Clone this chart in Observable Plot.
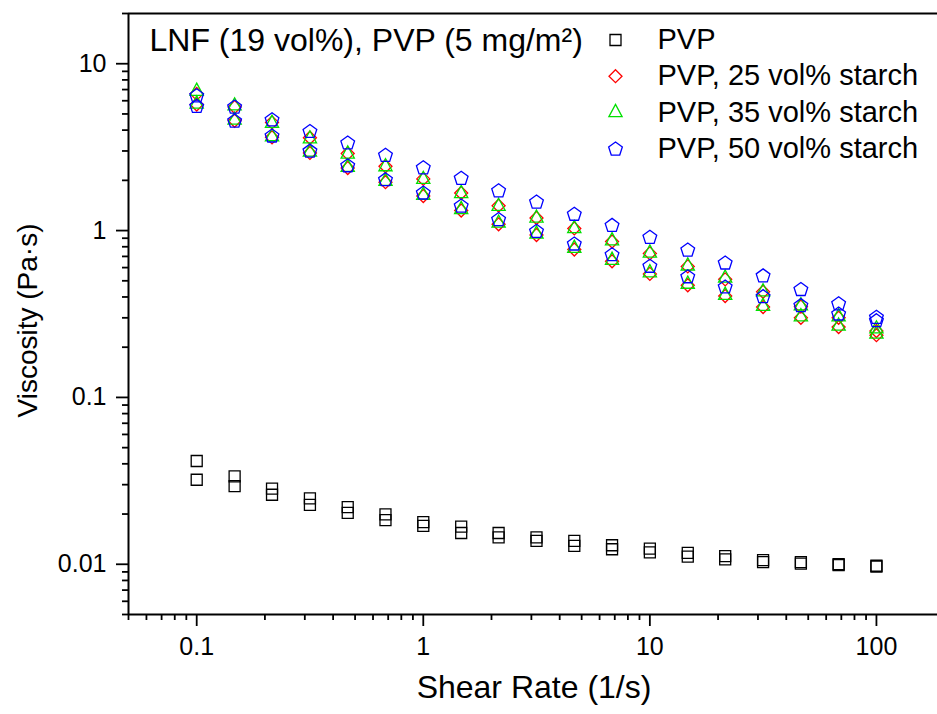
<!DOCTYPE html>
<html>
<head>
<meta charset="utf-8">
<script src="https://cdn.jsdelivr.net/npm/d3@7"></script>
<script src="https://cdn.jsdelivr.net/npm/@observablehq/plot@0.6"></script>
<style>
  html, body { margin: 0; padding: 0; background: #fff; }
  #chart { width: 937px; height: 714px; }
</style>
</head>
<body>
<div id="chart"></div>
<script>
// ---------- data ----------
const shearRate = [0.1, 0.147, 0.215, 0.316, 0.464, 0.681, 1, 1.47, 2.15, 3.16, 4.64, 6.81, 10, 14.7, 21.5, 31.6, 46.4, 68.1, 100];

const pvpUp   = [0.0416, 0.0336, 0.0284, 0.0248, 0.0220, 0.0199, 0.0179, 0.0168, 0.0154, 0.0145, 0.0138, 0.0130, 0.0124, 0.0117, 0.0112, 0.0106, 0.0103, 0.0100, 0.0098];
const pvpDown = [0.0321, 0.0294, 0.0261, 0.0227, 0.0203, 0.0184, 0.0170, 0.0154, 0.0145, 0.0138, 0.0129, 0.0123, 0.0118, 0.0111, 0.0107, 0.0103, 0.0101, 0.0099, 0.0097];

const s25Up   = [6.6, 5.5, 4.45, 3.6, 2.9, 2.43, 2.04, 1.68, 1.41, 1.19, 1.03, 0.86, 0.73, 0.61, 0.51, 0.43, 0.35, 0.30, 0.25];
const s25Down = [5.7, 4.55, 3.62, 2.92, 2.37, 1.95, 1.61, 1.32, 1.09, 0.94, 0.77, 0.655, 0.55, 0.47, 0.405, 0.348, 0.30, 0.264, 0.236];

const s35Up   = [6.85, 5.6, 4.4, 3.55, 2.88, 2.42, 2.03, 1.67, 1.40, 1.19, 1.03, 0.87, 0.735, 0.615, 0.52, 0.43, 0.355, 0.305, 0.258];
const s35Down = [5.75, 4.6, 3.66, 2.96, 2.40, 1.98, 1.63, 1.34, 1.11, 0.955, 0.785, 0.665, 0.56, 0.478, 0.41, 0.352, 0.305, 0.268, 0.24];

const s50Up   = [6.46, 5.53, 4.64, 3.95, 3.37, 2.84, 2.39, 2.07, 1.74, 1.49, 1.26, 1.08, 0.916, 0.769, 0.643, 0.538, 0.446, 0.366, 0.304];
const s50Down = [5.58, 4.56, 3.71, 3.01, 2.46, 2.03, 1.69, 1.41, 1.17, 0.995, 0.836, 0.721, 0.615, 0.532, 0.462, 0.404, 0.357, 0.318, 0.290];

const seriesNames = ["PVP", "PVP, 25 vol% starch", "PVP, 35 vol% starch", "PVP, 50 vol% starch"];
const seriesColors = ["#000000", "#ff0000", "#00e000", "#0000ff"];

const xDomain = [0.05, 186];
const yDomain = [0.005, 20];
const xMajor = [0.1, 1, 10, 100];
const xTickLabels = ["0.1", "1", "10", "100"];
const xMinor = [0.05, 0.06, 0.07, 0.08, 0.09, 0.2, 0.3, 0.4, 0.5, 0.6, 0.7, 0.8, 0.9, 2, 3, 4, 5, 6, 7, 8, 9, 20, 30, 40, 50, 60, 70, 80, 90];
const yMajor = [0.01, 0.1, 1, 10];
const yTickLabels = ["0.01", "0.1", "1", "10"];
const yMinor = [0.005, 0.006, 0.007, 0.008, 0.009, 0.02, 0.03, 0.04, 0.05, 0.06, 0.07, 0.08, 0.09, 0.2, 0.3, 0.4, 0.5, 0.6, 0.7, 0.8, 0.9, 2, 3, 4, 5, 6, 7, 8, 9, 20];

const titleText = "LNF (19 vol%), PVP (5 mg/m²)";
const xTitle = "Shear Rate (1/s)";
const yTitle = "Viscosity (Pa·s)";

// ---------- marker shapes ----------
function polySymbol(pts) {
  return {
    draw(context, size) {
      const k = Math.sqrt(size / Math.PI) / 6;
      context.moveTo(pts[0][0] * k, pts[0][1] * k);
      for (let i = 1; i < pts.length; i++) context.lineTo(pts[i][0] * k, pts[i][1] * k);
      context.closePath();
    }
  };
}
const squareSym = polySymbol([[-5.5, -5.5], [5.5, -5.5], [5.5, 5.5], [-5.5, 5.5]]);
const diamondSym = polySymbol([[0, -6.5], [6.5, 0], [0, 6.5], [-6.5, 0]]);
const triangleSym = polySymbol([[0, -8], [6.6, 4.2], [-6.6, 4.2]]);
const pentR = 7.2;
const pentagonSym = polySymbol(d3.range(5).map(i => {
  const a = (-90 + 72 * i) * Math.PI / 180;
  return [pentR * Math.cos(a), pentR * Math.sin(a) + 0.6];
}));
const symbols = [squareSym, diamondSym, triangleSym, pentagonSym];

function rows(up, down) {
  const out = [];
  shearRate.forEach((x, i) => {
    out.push({x, y: up[i]});
    out.push({x, y: down[i]});
  });
  return out;
}
const seriesData = [rows(pvpUp, pvpDown), rows(s25Up, s25Down), rows(s35Up, s35Down), rows(s50Up, s50Down)];

const xLab = new Map(xMajor.map((v, i) => [v, xTickLabels[i]]));
const yLab = new Map(yMajor.map((v, i) => [v, yTickLabels[i]]));

const font = "'Liberation Sans', Arial, sans-serif";

const marks = [];
// frame lines
marks.push(Plot.ruleX([xDomain[0]], {stroke: "#000", strokeWidth: 2}));
marks.push(Plot.ruleY([yDomain[0]], {stroke: "#000", strokeWidth: 2}));
marks.push(Plot.ruleY([yDomain[1]], {stroke: "#000", strokeWidth: 2}));
// axes
marks.push(Plot.axisX({ticks: xMajor, tickSize: 12, tickPadding: 11, strokeWidth: 1.8, tickFormat: d => xLab.get(d), fontSize: 25, label: null}));
marks.push(Plot.axisX({ticks: xMinor, tickSize: 6, strokeWidth: 1.8, tickFormat: () => "", label: null}));
marks.push(Plot.axisY({ticks: yMajor, tickSize: 12, tickPadding: 10, strokeWidth: 1.8, tickFormat: d => yLab.get(d), fontSize: 25, label: null}));
marks.push(Plot.axisY({ticks: yMinor, tickSize: 6, strokeWidth: 1.8, tickFormat: () => "", label: null}));
// data
seriesData.forEach((data, s) => {
  marks.push(Plot.dot(data, {x: "x", y: "y", r: 6, symbol: symbols[s], stroke: seriesColors[s], fill: "none", strokeWidth: 1.3}));
});
// title
marks.push(Plot.text([titleText], {frameAnchor: "top-left", dx: 21, dy: 27.5, text: d => d, textAnchor: "start", lineAnchor: "middle", fontSize: 32, fill: "#000"}));
// legend
seriesNames.forEach((name, i) => {
  const dy = 26.5 + i * 36.2;
  marks.push(Plot.dot([name], {frameAnchor: "top-left", dx: 487, dy, r: 6, symbol: symbols[i], stroke: seriesColors[i], fill: "none", strokeWidth: 1.3}));
  marks.push(Plot.text([name], {frameAnchor: "top-left", dx: 529, dy, text: d => d, textAnchor: "start", lineAnchor: "middle", fontSize: 29, fill: "#000"}));
});
// axis titles
marks.push(Plot.text([xTitle], {frameAnchor: "bottom", dx: 1, dy: 73.5, text: d => d, textAnchor: "middle", lineAnchor: "middle", fontSize: 32, fill: "#000"}));
marks.push(Plot.text([yTitle], {frameAnchor: "left", dx: -100, dy: 6.5, text: d => d, rotate: -90, textAnchor: "middle", lineAnchor: "middle", fontSize: 28, fill: "#000"}));

const chart = Plot.plot({
  width: 937,
  height: 714,
  marginLeft: 128,
  marginRight: 0,
  marginTop: 13,
  marginBottom: 100,
  style: {fontFamily: font, background: "#fff", color: "#000", overflow: "visible"},
  x: {type: "log", domain: xDomain},
  y: {type: "log", domain: yDomain},
  marks
});
document.getElementById("chart").appendChild(chart);
</script>
</body>
</html>
